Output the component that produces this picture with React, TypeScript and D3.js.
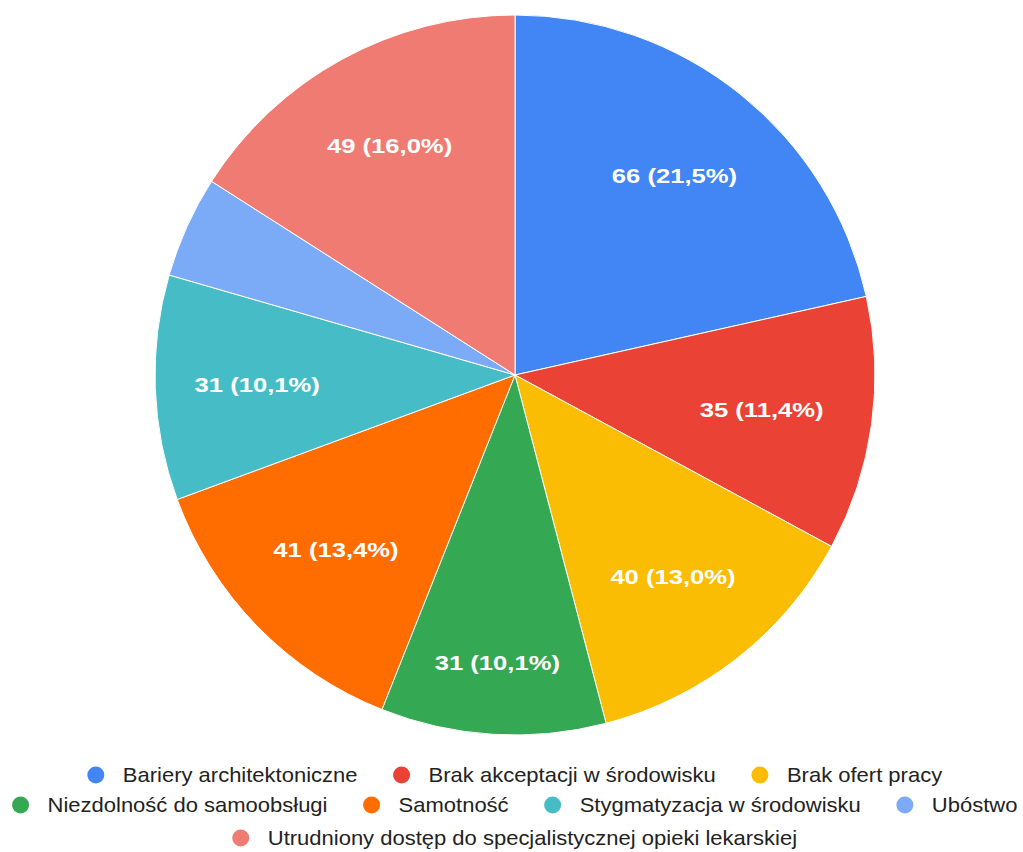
import React, { useEffect, useRef } from "react";
import * as d3 from "d3";

const categories = [
  "Bariery architektoniczne",
  "Brak akceptacji w środowisku",
  "Brak ofert pracy",
  "Niezdolność do samoobsługi",
  "Samotność",
  "Stygmatyzacja w środowisku",
  "Ubóstwo",
  "Utrudniony dostęp do specjalistycznej opieki lekarskiej",
];
const values = [66, 35, 40, 31, 41, 31, 14, 49];
const colors = ["#4285F4", "#EA4335", "#FBBC04", "#34A853", "#FF6D01", "#46BDC6", "#7BAAF7", "#F07B72"];
const legendRows = [[0, 1, 2], [3, 4, 5, 6], [7]];

// layout: distance of each slice label from the centre
const labelRadius = [255, 249, 256, 288, 250, 258, 0, 261];

const W = 1023, H = 852;
const CX = 515, CY = 375, R = 360;
const FONT = "'Liberation Sans', Arial, sans-serif";

export default function App() {
  const ref = useRef<SVGSVGElement>(null);
  useEffect(() => {
    const svg = d3.select(ref.current);
    svg.selectAll("*").remove();
    const total = d3.sum(values);
    const pie = d3.pie<number>().sort(null).value((d) => d);
    const arcs = pie(values);
    const arc = d3.arc<d3.PieArcDatum<number>>().innerRadius(0).outerRadius(R);
    const g = svg.append("g").attr("transform", `translate(${CX},${CY})`);
    g.selectAll("path").data(arcs).join("path")
      .attr("d", arc as any)
      .attr("fill", (_, i) => colors[i])
      .attr("stroke", "#fff").attr("stroke-width", 1);
    g.selectAll("text").data(arcs.filter((a) => a.value / total > 0.05)).join("text")
      .attr("transform", (d) => {
        const r = labelRadius[d.index];
        const [x, y] = d3.arc<d3.PieArcDatum<number>>().innerRadius(r).outerRadius(r).centroid(d);
        return `translate(${x},${y}) scale(1.22,1)`;
      })
      .attr("text-anchor", "middle").attr("dy", "0.35em")
      .attr("fill", "#fff").attr("font-weight", "bold")
      .attr("font-family", FONT).attr("font-size", 21)
      .text((d) => `${d.value} (${(d.value / total * 100).toFixed(1).replace(".", ",")}%)`);

    // legend
    const fs = 20;
    const sx = 1.1;
    const canvas = document.createElement("canvas");
    const ctx = canvas.getContext("2d")!;
    ctx.font = `${fs}px ${FONT}`;
    const rowY = [775, 805, 838];
    const lg = svg.append("g");
    legendRows.forEach((row, ri) => {
      const widths = row.map((i) => 27 + ctx.measureText(categories[i]).width * sx);
      const gap = 35;
      const totalW = d3.sum(widths) + gap * (row.length - 1) + 9 * row.length;
      let x = (W - totalW) / 2 + 3;
      row.forEach((i, k) => {
        lg.append("circle").attr("cx", x + 9).attr("cy", rowY[ri]).attr("r", 8.5).attr("fill", colors[i]);
        lg.append("text").attr("transform", `translate(${x + 36},${rowY[ri]}) scale(${sx},1)`).attr("dy", "0.35em")
          .attr("font-family", FONT).attr("font-size", fs).attr("fill", "#222")
          .text(categories[i]);
        x += widths[k] + gap + 9;
      });
    });
  }, []);
  return <svg ref={ref} width={W} height={H} style={{ position: "absolute", left: 0, top: 0 }} />;
}
